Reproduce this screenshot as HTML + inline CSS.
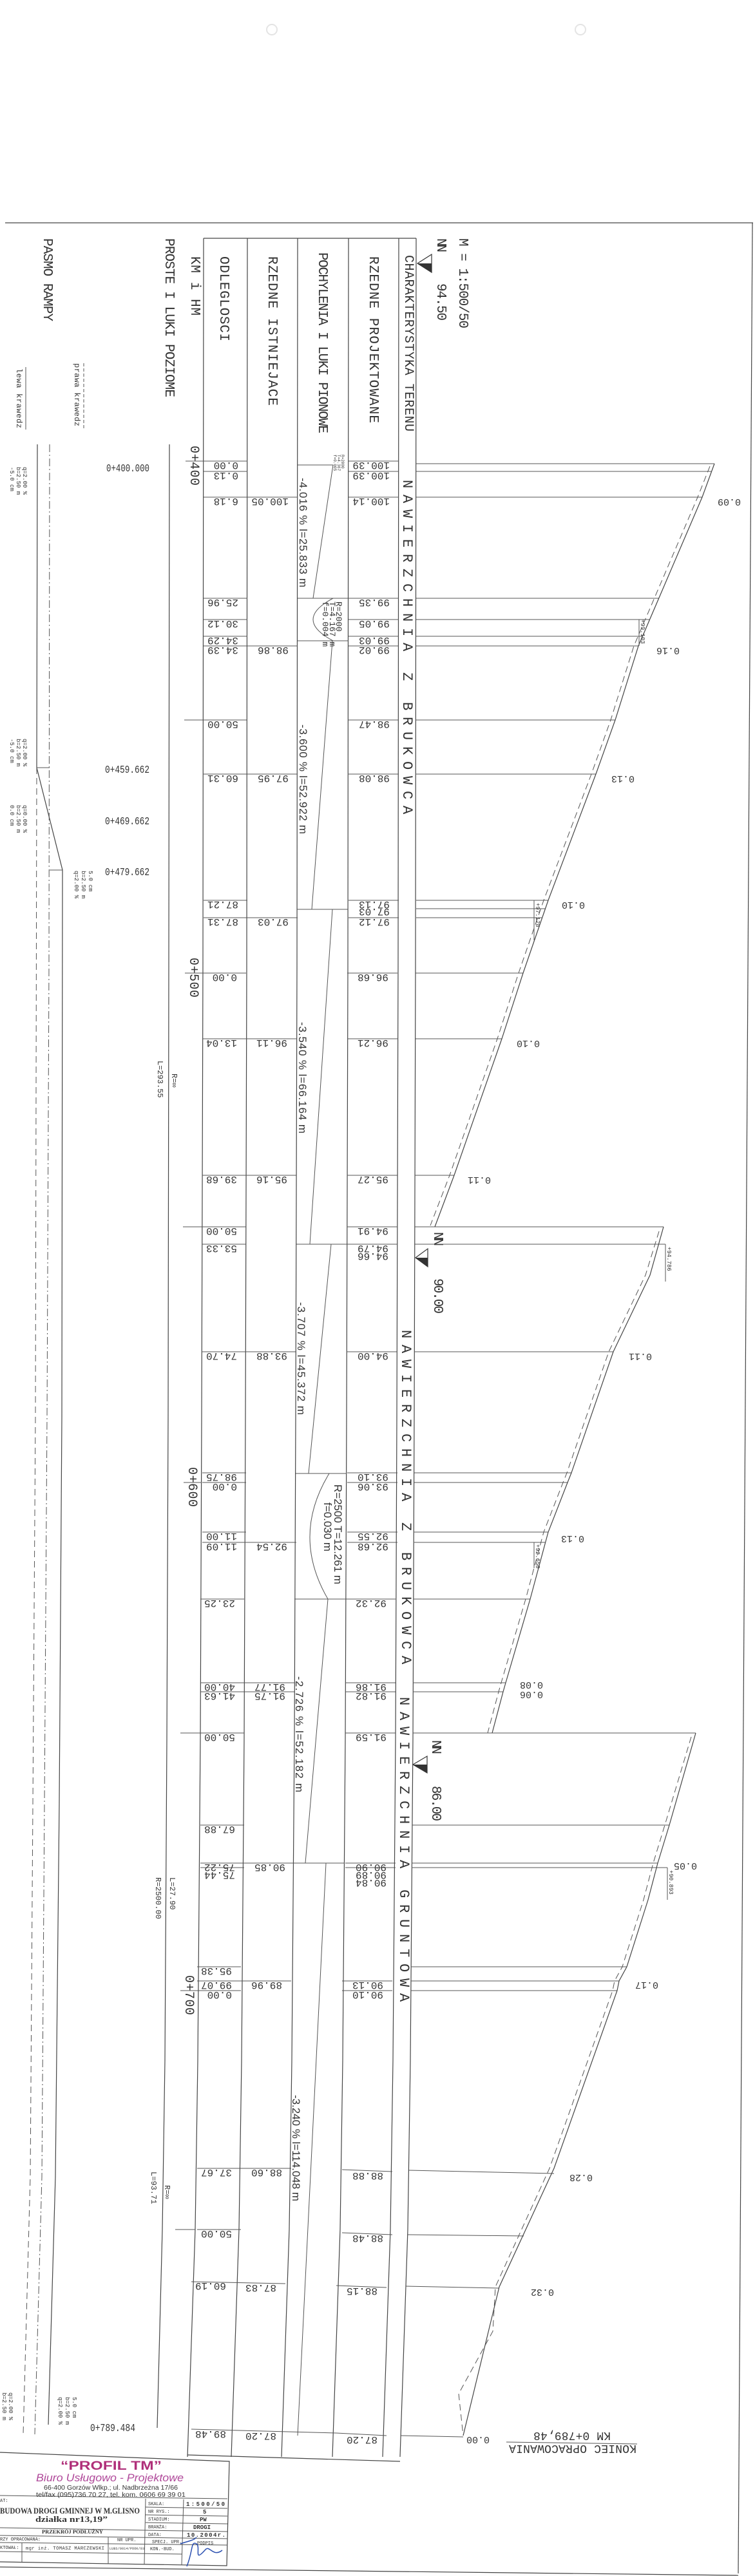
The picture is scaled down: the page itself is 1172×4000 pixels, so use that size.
<!DOCTYPE html>
<html><head><meta charset="utf-8"><style>
html,body{margin:0;padding:0;background:#fff;}
svg{display:block}
text{font-family:"Liberation Mono",monospace;fill:#333}
.h{font-size:21px}
.n{font-size:16px}
.p{font-size:15px}
.sl{font-family:"Liberation Sans",sans-serif;font-size:17px}
.sm{font-size:12px}
.tn{font-size:9px}
.st{font-size:20px}
.nw{font-size:22px;letter-spacing:9.8px}
.ln{stroke:#444;stroke-width:1.2;fill:none}
.lt{stroke:#555;stroke-width:1;fill:none}
.ds{stroke:#555;stroke-width:1;fill:none;stroke-dasharray:10 6}
.dd{stroke:#555;stroke-width:1;fill:none;stroke-dasharray:12 4 2 4}
</style></head><body>
<svg width="1172" height="4000" viewBox="0 0 1172 4000" xmlns="http://www.w3.org/2000/svg">
<rect width="1172" height="4000" fill="#fff"/>
<circle cx="422" cy="46" r="8" fill="none" stroke="#e4e4e4" stroke-width="2"/>
<circle cx="901" cy="46" r="8" fill="none" stroke="#e4e4e4" stroke-width="2"/>
<line class="ln" x1="8" y1="346" x2="1169" y2="346"/>
<line class="ln" x1="1168" y1="346" x2="1146" y2="3996"/>
<line class="ln" x1="0" y1="3986" x2="1146" y2="3999"/>

<text class="h" transform="translate(713,370) rotate(90)" textLength="140">M = 1:500/50</text>
<text class="h" transform="translate(679,370) rotate(90)" textLength="22">NN</text>
<text class="h" transform="translate(679,440) rotate(90)" textLength="58">94.50</text>
<polygon points="648,409 670,395 670,423" fill="none" stroke="#333" stroke-width="1.2"/>
<polygon points="648,409 670,409 670,423" fill="#333"/>
<text class="st" transform="translate(629,396) rotate(90)" textLength="274">CHARAKTERYSTYKA TERENU</text>
<text class="h" transform="translate(574,398) rotate(90)" textLength="259">RZEDNE PROJEKTOWANE</text>
<text class="h" transform="translate(495,392) rotate(90)" textLength="281">POCHYLENIA I LUKI PIONOWE</text>
<text class="h" transform="translate(417,398) rotate(90)" textLength="232">RZEDNE ISTNIEJACE</text>
<text class="h" transform="translate(342,398) rotate(90)" textLength="132">ODLEGLOSCI</text>
<text class="h" transform="translate(297,398) rotate(90)" textLength="92">KM i HM</text>
<text class="h" transform="translate(257,370) rotate(90)" textLength="247">PROSTE I LUKI POZIOME</text>
<text class="h" transform="translate(68,370) rotate(90)" textLength="129">PASMO RAMPY</text>
<text class="sm" transform="translate(116,564) rotate(90)" textLength="98">prawa krawedz</text>
<line class="ds" x1="130" y1="564" x2="130" y2="665" style="stroke-dasharray:5 3"/>
<text class="sm" transform="translate(26,572) rotate(90)" textLength="93">lewa krawedz</text>
<line class="lt" x1="40" y1="570" x2="40" y2="667"/>

<line class="ln" x1="316" y1="370" x2="646" y2="370"/>
<polyline class="ln" points="316,370 315,1500 313,2200 311,2700 307,3200 303,3462 291,3815"/>
<polyline class="ln" points="384,370 383,1500 381,2200 379,2700 375,3200 371,3462 359,3815"/>
<polyline class="ln" points="462,370 461,1500 459,2200 457,2700 453,3200 449,3462 437,3815"/>
<polyline class="ln" points="541,370 540,1500 538,2200 536,2700 532,3200 528,3462 516,3815"/>
<polyline class="ln" points="619,370 618,1500 616,2200 614,2700 610,3200 606,3462 594,3815"/>
<polyline class="ln" points="646,370 645,1500 643,2200 641,2700 637,3200 633,3462 621,3815"/>
<line class="ln" x1="291" y1="3812" x2="621" y2="3822"/>
<polyline class="ln" points="263,690 262,1500 261,2200 259,2700 256,3200 252,3462 244,3770"/>

<polyline class="ln" points="58,690 57,1192 97,1351 96,2200 92,2800 86,3380 75,3765"/>
<polyline class="ds" points="57,1192 55,2200 51,2800 47,3380 36,3780"/>
<polyline class="dd" points="77,690 76,1500 73,2200 69,2800 65,3380 54,3780"/>
<line class="lt" x1="57" y1="1192" x2="77" y2="1192"/>
<line class="lt" x1="77" y1="1351" x2="97" y2="1351"/>
<g class="tn">
<text transform="translate(36,725) rotate(90)">q=2.00 %</text>
<text transform="translate(26,725) rotate(90)">b=2.50 m</text>
<text transform="translate(16,725) rotate(90)">-5.0 cm</text>
<text transform="translate(36,1147) rotate(90)">q=2.00 %</text>
<text transform="translate(26,1147) rotate(90)">b=2.50 m</text>
<text transform="translate(16,1147) rotate(90)">-5.0 cm</text>
<text transform="translate(36,1250) rotate(90)">q=0.00 %</text>
<text transform="translate(26,1250) rotate(90)">b=2.50 m</text>
<text transform="translate(16,1250) rotate(90)">0.0 cm</text>
<text transform="translate(138,1352) rotate(90)">5.0 cm</text>
<text transform="translate(127,1352) rotate(90)">b=2.50 m</text>
<text transform="translate(116,1352) rotate(90)">q=2.00 %</text>
<text transform="translate(14,3715) rotate(90)">q=2.00 %</text>
<text transform="translate(4,3715) rotate(90)">b=2.50 m</text>
<text transform="translate(113,3722) rotate(90)">5.0 cm</text>
<text transform="translate(102,3722) rotate(90)">b=2.50 m</text>
<text transform="translate(91,3722) rotate(90)">q=2.00 %</text>
</g>
<g style="font-size:17px">
<text x="165" y="732" textLength="67" lengthAdjust="spacingAndGlyphs">0+400.000</text>
<text x="163" y="1200" textLength="69" lengthAdjust="spacingAndGlyphs">0+459.662</text>
<text x="163" y="1280" textLength="69" lengthAdjust="spacingAndGlyphs">0+469.662</text>
<text x="163" y="1359" textLength="69" lengthAdjust="spacingAndGlyphs">0+479.662</text>
<text x="140" y="3775" textLength="70" lengthAdjust="spacingAndGlyphs">0+789.484</text>
</g>

<g class="sm">
<text transform="translate(267,1667) rotate(90)">R=∞</text>
<text transform="translate(245,1647) rotate(90)">L=293.55</text>
<text transform="translate(264,2915) rotate(90)">L=27.90</text>
<text transform="translate(242,2915) rotate(90)">R=2500.00</text>
<text transform="translate(256,3393) rotate(90)">R=∞</text>
<text transform="translate(235,3372) rotate(90)">L=93.71</text>
</g>

<text class="nw" transform="translate(626,745) rotate(90)">NAWIERZCHNIA Z BRUKOWCA</text>
<text class="nw" transform="translate(624,2065) rotate(90)">NAWIERZCHNIA Z BRUKOWCA</text>
<text class="nw" transform="translate(621,2635) rotate(90)">NAWIERZCHNIA GRUNTOWA</text>

<text class="h" transform="translate(674,1913) rotate(90)" textLength="22">NN</text>
<polygon points="645,1953 664,1939 664,1967" fill="none" stroke="#333" stroke-width="1.2"/>
<polygon points="645,1953 664,1953 664,1967" fill="#333"/>
<text class="h" transform="translate(674,1985) rotate(90)" textLength="55">90.00</text>
<text class="h" transform="translate(671,2702) rotate(90)" textLength="22">NN</text>
<polygon points="641,2740 663,2727 663,2753" fill="none" stroke="#333" stroke-width="1.2"/>
<polygon points="641,2740 663,2740 663,2753" fill="#333"/>
<text class="h" transform="translate(671,2773) rotate(90)" textLength="55">86.00</text>

<g>
<line class="lt" x1="462" y1="722" x2="517" y2="722"/>
<line class="lt" x1="517" y1="722" x2="486" y2="929"/>
<line class="lt" x1="462" y1="929" x2="541" y2="929"/>
<path class="lt" d="M517,929 Q455,962 517,995"/>
<line class="lt" x1="462" y1="995" x2="541" y2="995"/>
<line class="lt" x1="516" y1="995" x2="484" y2="1412"/>
<line class="lt" x1="461" y1="1412" x2="540" y2="1412"/>
<line class="lt" x1="516" y1="1412" x2="481" y2="1932"/>
<line class="lt" x1="459" y1="1932" x2="539" y2="1932"/>
<line class="lt" x1="514" y1="1932" x2="479" y2="2288"/>
<line class="lt" x1="459" y1="2288" x2="538" y2="2288"/>
<path class="lt" d="M511,2288 Q452,2385 509,2483"/>
<line class="lt" x1="457" y1="2483" x2="536" y2="2483"/>
<line class="lt" x1="509" y1="2483" x2="474" y2="2893"/>
<line class="lt" x1="456" y1="2893" x2="535" y2="2893"/>
<line class="lt" x1="506" y1="2893" x2="462" y2="3782"/>
<text class="tn" style="font-size:6px" transform="translate(530,706) rotate(90)">R=2000</text>
<text class="tn" style="font-size:6px" transform="translate(524,706) rotate(90)">T=4.367</text>
<text class="tn" style="font-size:6px" transform="translate(518,706) rotate(90)">f=0.005</text>
<text style="font-size:13px" transform="translate(522,934) rotate(90)">R=2000</text>
<text style="font-size:13px" transform="translate(512,934) rotate(90)">T=4.167 m</text>
<text style="font-size:13px" transform="translate(501,934) rotate(90)">f=0.004 m</text>
<text class="sl" transform="translate(519,2305) rotate(90)" textLength="155">R=2500  T=12.261 m</text>
<text class="sl" transform="translate(503,2333) rotate(90)">f=0.030 m</text>
<text class="sl" transform="translate(465,742) rotate(90)" textLength="170">-4.016 % l=25.833 m</text>
<text class="sl" transform="translate(465,1125) rotate(90)" textLength="170">-3.600 % l=52.922 m</text>
<text class="sl" transform="translate(464,1587) rotate(90)" textLength="173">-3.540 % l=66.164 m</text>
<text class="sl" transform="translate(462,2022) rotate(90)" textLength="175">-3.707 % l=45.372 m</text>
<text class="sl" transform="translate(459,2603) rotate(90)" textLength="180">-2.726 % l=52.182 m</text>
<text class="sl" transform="translate(454,3253) rotate(90)" textLength="165">-3.240 % l=114.048 m</text>
</g>

<g class="st">
<text transform="translate(296,692) rotate(90)" textLength="62">0+400</text>
<text transform="translate(295,1487) rotate(90)" textLength="62">0+500</text>
<text transform="translate(293,2278) rotate(90)" textLength="62">0+600</text>
<text transform="translate(288,3067) rotate(90)" textLength="62">0+700</text>
</g>
<line class="lt" x1="288" y1="716" x2="316" y2="716"/>
<line class="lt" x1="287" y1="1511" x2="315" y2="1511"/>
<line class="lt" x1="285" y1="2302" x2="313" y2="2302"/>
<line class="lt" x1="280" y1="3091" x2="307" y2="3091"/>
<line class="lt" x1="286" y1="1118" x2="316" y2="1118"/>
<line class="lt" x1="284" y1="1905" x2="314" y2="1905"/>
<line class="lt" x1="280" y1="2691" x2="311" y2="2691"/>
<line class="lt" x1="272" y1="3462" x2="303" y2="3462"/>

<g>
<g class="lt">
<line x1="316" y1="716" x2="384" y2="716"/><line x1="541" y1="716" x2="619" y2="716"/>
<line x1="316" y1="732" x2="384" y2="732"/><line x1="541" y1="732" x2="619" y2="732"/>
<line x1="316" y1="772" x2="462" y2="772"/><line x1="541" y1="772" x2="619" y2="772"/>
<line x1="316" y1="929" x2="384" y2="929"/><line x1="541" y1="929" x2="619" y2="929"/>
<line x1="316" y1="962" x2="384" y2="962"/><line x1="541" y1="962" x2="619" y2="962"/>
<line x1="316" y1="988" x2="384" y2="988"/><line x1="541" y1="988" x2="619" y2="988"/>
<line x1="316" y1="1003" x2="462" y2="1003"/><line x1="541" y1="1003" x2="619" y2="1003"/>
<line x1="316" y1="1118" x2="384" y2="1118"/><line x1="541" y1="1118" x2="619" y2="1118"/>
<line x1="316" y1="1202" x2="462" y2="1202"/><line x1="541" y1="1202" x2="619" y2="1202"/>
<line x1="316" y1="1398" x2="384" y2="1398"/><line x1="541" y1="1398" x2="619" y2="1398"/>
<line x1="316" y1="1425" x2="462" y2="1425"/><line x1="541" y1="1425" x2="619" y2="1425"/>
</g>
<g class="n">
<text transform="translate(370,718) rotate(180)">0.00</text><text transform="translate(605,718) rotate(180)">100.39</text>
<text transform="translate(370,734) rotate(180)">0.13</text><text transform="translate(605,734) rotate(180)">100.39</text>
<text transform="translate(370,774) rotate(180)">6.18</text><text transform="translate(448,774) rotate(180)">100.05</text><text transform="translate(605,774) rotate(180)">100.14</text>
<text transform="translate(370,931) rotate(180)">25.96</text><text transform="translate(605,931) rotate(180)">99.35</text>
<text transform="translate(370,964) rotate(180)">30.12</text><text transform="translate(605,964) rotate(180)">99.05</text>
<text transform="translate(370,990) rotate(180)">34.29</text><text transform="translate(605,990) rotate(180)">99.03</text>
<text transform="translate(370,1005) rotate(180)">34.39</text><text transform="translate(448,1005) rotate(180)">98.86</text><text transform="translate(605,1005) rotate(180)">99.02</text>
<text transform="translate(370,1120) rotate(180)">50.00</text><text transform="translate(605,1120) rotate(180)">98.47</text>
<text transform="translate(370,1204) rotate(180)">60.31</text><text transform="translate(448,1204) rotate(180)">97.95</text><text transform="translate(605,1204) rotate(180)">98.08</text>
<text transform="translate(370,1400) rotate(180)">87.21</text><text transform="translate(605,1400) rotate(180)">97.13</text><text transform="translate(605,1411) rotate(180)">97.03</text>
<text transform="translate(370,1427) rotate(180)">87.31</text><text transform="translate(448,1427) rotate(180)">97.03</text><text transform="translate(605,1427) rotate(180)">97.12</text>
</g>
</g>
<g transform="translate(-2,0)">
<g class="lt">
<line x1="316" y1="1511" x2="384" y2="1511"/><line x1="541" y1="1511" x2="619" y2="1511"/>
<line x1="316" y1="1613" x2="462" y2="1613"/><line x1="541" y1="1613" x2="619" y2="1613"/>
<line x1="316" y1="1825" x2="462" y2="1825"/><line x1="541" y1="1825" x2="619" y2="1825"/>
<line x1="316" y1="1905" x2="384" y2="1905"/><line x1="541" y1="1905" x2="619" y2="1905"/>
<line x1="316" y1="1932" x2="384" y2="1932"/><line x1="541" y1="1932" x2="619" y2="1932"/>
<line x1="316" y1="2099" x2="462" y2="2099"/><line x1="541" y1="2099" x2="619" y2="2099"/>
<line x1="316" y1="2287" x2="384" y2="2287"/><line x1="541" y1="2287" x2="619" y2="2287"/>
<line x1="316" y1="2302" x2="384" y2="2302"/><line x1="541" y1="2302" x2="619" y2="2302"/>
<line x1="316" y1="2379" x2="384" y2="2379"/><line x1="541" y1="2379" x2="619" y2="2379"/>
<line x1="316" y1="2395" x2="462" y2="2395"/><line x1="541" y1="2395" x2="619" y2="2395"/>
</g>
<g class="n">
<text transform="translate(370,1513) rotate(180)">0.00</text><text transform="translate(605,1513) rotate(180)">96.68</text>
<text transform="translate(370,1615) rotate(180)">13.04</text><text transform="translate(448,1615) rotate(180)">96.11</text><text transform="translate(605,1615) rotate(180)">96.21</text>
<text transform="translate(370,1827) rotate(180)">39.68</text><text transform="translate(448,1827) rotate(180)">95.16</text><text transform="translate(605,1827) rotate(180)">95.27</text>
<text transform="translate(370,1907) rotate(180)">50.00</text><text transform="translate(605,1907) rotate(180)">94.91</text>
<text transform="translate(370,1934) rotate(180)">53.33</text><text transform="translate(605,1934) rotate(180)">94.79</text><text transform="translate(605,1946) rotate(180)">94.66</text>
<text transform="translate(370,2101) rotate(180)">74.70</text><text transform="translate(448,2101) rotate(180)">93.88</text><text transform="translate(605,2101) rotate(180)">94.00</text>
<text transform="translate(370,2289) rotate(180)">98.75</text><text transform="translate(605,2289) rotate(180)">93.10</text>
<text transform="translate(370,2304) rotate(180)">0.00</text><text transform="translate(605,2304) rotate(180)">93.06</text>
<text transform="translate(370,2381) rotate(180)">11.00</text><text transform="translate(605,2381) rotate(180)">92.55</text>
<text transform="translate(370,2397) rotate(180)">11.09</text><text transform="translate(448,2397) rotate(180)">92.54</text><text transform="translate(605,2397) rotate(180)">92.68</text>
</g>
</g>
<g transform="translate(-5,0)">
<g class="lt">
<line x1="316" y1="2483" x2="384" y2="2483"/><line x1="541" y1="2483" x2="619" y2="2483"/>
<line x1="316" y1="2613" x2="462" y2="2613"/><line x1="541" y1="2613" x2="619" y2="2613"/>
<line x1="316" y1="2627" x2="462" y2="2627"/><line x1="541" y1="2627" x2="619" y2="2627"/>
<line x1="316" y1="2691" x2="384" y2="2691"/><line x1="541" y1="2691" x2="619" y2="2691"/>
<line x1="316" y1="2834" x2="384" y2="2834"/>
<line x1="316" y1="2893" x2="462" y2="2893"/><line x1="541" y1="2893" x2="619" y2="2893"/>
<line x1="316" y1="2900" x2="384" y2="2900"/><line x1="541" y1="2900" x2="619" y2="2900"/>
</g>
<g class="n">
<text transform="translate(370,2485) rotate(180)">23.25</text><text transform="translate(605,2485) rotate(180)">92.32</text>
<text transform="translate(370,2615) rotate(180)">40.00</text><text transform="translate(448,2615) rotate(180)">91.77</text><text transform="translate(605,2615) rotate(180)">91.86</text>
<text transform="translate(370,2629) rotate(180)">41.63</text><text transform="translate(448,2629) rotate(180)">91.75</text><text transform="translate(605,2629) rotate(180)">91.82</text>
<text transform="translate(370,2693) rotate(180)">50.00</text><text transform="translate(605,2693) rotate(180)">91.59</text>
<text transform="translate(370,2836) rotate(180)">67.88</text>
<text transform="translate(370,2895) rotate(180)">75.22</text><text transform="translate(448,2895) rotate(180)">90.85</text><text transform="translate(605,2895) rotate(180)">90.90</text>
<text transform="translate(370,2907) rotate(180)">75.44</text><text transform="translate(605,2907) rotate(180)">90.89</text><text transform="translate(605,2919) rotate(180)">90.84</text>
</g>
</g>
<g transform="translate(-10,0)">
<g class="lt">
<line x1="316" y1="3054" x2="384" y2="3054"/>
<line x1="316" y1="3076" x2="462" y2="3076"/><line x1="541" y1="3076" x2="619" y2="3076"/>
<line x1="316" y1="3091" x2="384" y2="3091"/><line x1="541" y1="3091" x2="619" y2="3091"/>
<line x1="316" y1="3367" x2="462" y2="3367"/><line x1="541" y1="3369" x2="619" y2="3372"/>
<line x1="316" y1="3462" x2="384" y2="3462"/><line x1="541" y1="3467" x2="619" y2="3470"/>
</g>
<g class="n">
<text transform="translate(370,3056) rotate(180)">95.38</text>
<text transform="translate(370,3078) rotate(180)">99.07</text><text transform="translate(448,3078) rotate(180)">89.96</text><text transform="translate(605,3078) rotate(180)">90.13</text>
<text transform="translate(370,3093) rotate(180)">0.00</text><text transform="translate(605,3093) rotate(180)">90.10</text>
<text transform="translate(370,3369) rotate(180)">37.67</text><text transform="translate(448,3369) rotate(180)">88.60</text><text transform="translate(605,3374) rotate(180)">88.88</text>
<text transform="translate(370,3464) rotate(180)">50.00</text><text transform="translate(605,3471) rotate(180)">88.48</text>
</g>
</g>
<g transform="translate(-19,0)">
<g class="lt">
<line x1="316" y1="3543" x2="462" y2="3546"/><line x1="541" y1="3549" x2="619" y2="3552"/>
<line x1="316" y1="3772" x2="541" y2="3778"/><line x1="541" y1="3778" x2="619" y2="3782"/>
</g>
<g class="n">
<text transform="translate(370,3545) rotate(180)">60.19</text><text transform="translate(448,3548) rotate(180)">87.83</text><text transform="translate(605,3553) rotate(180)">88.15</text>
<text transform="translate(370,3775) rotate(180)">89.48</text><text transform="translate(448,3778) rotate(180)">87.20</text><text transform="translate(605,3784) rotate(180)">87.20</text>
</g>
</g>

<g class="lt">
<line x1="646" y1="720" x2="1109" y2="720"/>
<line x1="646" y1="732" x2="1104" y2="732"/>
<line x1="646" y1="772" x2="1090" y2="772"/>
<line x1="646" y1="929" x2="1023" y2="929"/>
<line x1="646" y1="962" x2="1009" y2="962"/>
<line x1="646" y1="988" x2="997" y2="988"/>
<line x1="646" y1="1003" x2="991" y2="1003"/>
<line x1="646" y1="1118" x2="955" y2="1118"/>
<line x1="646" y1="1202" x2="925" y2="1202"/>
<line x1="646" y1="1398" x2="851" y2="1398"/>
<line x1="646" y1="1411" x2="846" y2="1411"/>
<line x1="646" y1="1425" x2="841" y2="1425"/>
<line x1="645" y1="1511" x2="812" y2="1511"/>
<line x1="645" y1="1613" x2="779" y2="1613"/>
<line x1="644" y1="1825" x2="705" y2="1825"/>
<line x1="644" y1="1905" x2="1030" y2="1905"/>
<line x1="644" y1="1932" x2="1033" y2="1932"/>
<line x1="643" y1="2099" x2="952" y2="2099"/>
<line x1="643" y1="2287" x2="887" y2="2287"/>
<line x1="643" y1="2302" x2="881" y2="2302"/>
<line x1="643" y1="2379" x2="851" y2="2379"/>
<line x1="643" y1="2395" x2="846" y2="2395"/>
<line x1="642" y1="2483" x2="823" y2="2483"/>
<line x1="641" y1="2613" x2="785" y2="2613"/>
<line x1="641" y1="2627" x2="781" y2="2627"/>
<line x1="641" y1="2691" x2="1080" y2="2691"/>
<line x1="640" y1="2834" x2="1039" y2="2834"/>
<line x1="639" y1="2893" x2="1021" y2="2893"/>
<line x1="639" y1="2900" x2="1036" y2="2900"/>
<line x1="638" y1="3054" x2="973" y2="3054"/>
<line x1="638" y1="3076" x2="961" y2="3076"/>
<line x1="638" y1="3091" x2="958" y2="3091"/>
<line x1="635" y1="3370" x2="860" y2="3375"/>
<line x1="633" y1="3470" x2="813" y2="3472"/>
<line x1="630" y1="3550" x2="775" y2="3553"/>
<line x1="622" y1="3782" x2="719" y2="3784"/>
</g>
<polyline class="ln" points="1109,720 1090,772 991,1003 955,1118 925,1202 851,1398 812,1511 779,1613 705,1825 675,1905"/>
<polyline class="ds" points="1102,724 1083,772 984,1003 948,1118 918,1202 844,1398 805,1511 772,1613 698,1825 668,1903"/>
<polyline class="ln" points="1030,1905 1009,1980 952,2099 887,2287 881,2302 851,2379 823,2483 785,2613 781,2627 764,2691"/>
<polyline class="ds" points="1023,1912 1002,1980 945,2099 880,2287 874,2302 844,2379 816,2483 778,2613 774,2627 757,2691"/>
<polyline class="ln" points="1080,2691 1039,2834 1021,2893 1006,2950 973,3054 961,3076 958,3091 860,3367 775,3551 719,3782"/>
<polyline class="ds" points="1073,2697 1032,2834 1014,2893 999,2950 966,3054 954,3076 951,3091 853,3367 769,3551 765,3620 712,3717 719,3782"/>
<g class="lt">
<line x1="829" y1="1398" x2="829" y2="1460"/>
<line x1="1033" y1="1932" x2="1033" y2="1990"/>
<line x1="829" y1="2395" x2="829" y2="2435"/>
<line x1="1036" y1="2900" x2="1036" y2="2950"/>
<line x1="992" y1="962" x2="992" y2="1003"/>
</g>
<g class="tn">
<text transform="translate(832,1402) rotate(90)">+97.128</text>
<text transform="translate(1036,1936) rotate(90)">+94.786</text>
<text transform="translate(832,2398) rotate(90)">+92.650</text>
<text transform="translate(1039,2904) rotate(90)">+90.893</text>
<text transform="translate(995,962) rotate(90)">+99.103</text>
</g>
<g class="p">
<text transform="translate(1150,775) rotate(180)">0.09</text>
<text transform="translate(1055,1006) rotate(180)">0.16</text>
<text transform="translate(985,1205) rotate(180)">0.13</text>
<text transform="translate(908,1401) rotate(180)">0.10</text>
<text transform="translate(838,1616) rotate(180)">0.10</text>
<text transform="translate(762,1828) rotate(180)">0.11</text>
<text transform="translate(1012,2102) rotate(180)">0.11</text>
<text transform="translate(907,2385) rotate(180)">0.13</text>
<text transform="translate(843,2612) rotate(180)">0.08</text>
<text transform="translate(843,2627) rotate(180)">0.06</text>
<text transform="translate(1082,2893) rotate(180)">0.05</text>
<text transform="translate(1022,3078) rotate(180)">0.17</text>
<text transform="translate(920,3377) rotate(180)">0.28</text>
<text transform="translate(860,3555) rotate(180)">0.32</text>
<text transform="translate(760,3784) rotate(180)">0.00</text>
</g>
<text style="font-size:18px" transform="translate(948,3777) rotate(180)" textLength="120">KM 0+789,48</text>
<line class="lt" x1="786" y1="3792" x2="989" y2="3795"/>
<text style="font-size:18px" transform="translate(988,3797) rotate(180)" textLength="198">KONIEC OPRACOWANIA</text>

<g>
<polyline class="ln" points="0,3808 356,3822 352,3984 0,3978"/>
<line class="lt" x1="0" y1="3875" x2="353" y2="3880"/>
<line class="lt" x1="226" y1="3880" x2="224" y2="3982"/>
<line class="lt" x1="285" y1="3881" x2="282" y2="3983"/>
<line class="lt" x1="226" y1="3893" x2="353" y2="3895"/>
<line class="lt" x1="226" y1="3905" x2="353" y2="3907"/>
<line class="lt" x1="226" y1="3917" x2="353" y2="3919"/>
<line class="lt" x1="226" y1="3929" x2="353" y2="3931"/>
<line class="lt" x1="0" y1="3925" x2="226" y2="3929"/>
<line class="lt" x1="0" y1="3937" x2="353" y2="3942"/>
<line class="lt" x1="0" y1="3948" x2="353" y2="3952"/>
<line class="lt" x1="0" y1="3962" x2="282" y2="3966"/>
<line class="lt" x1="34" y1="3948" x2="34" y2="3978"/>
<line class="lt" x1="168" y1="3940" x2="168" y2="3981"/>
<text x="94" y="3835" textLength="157" lengthAdjust="spacingAndGlyphs" style="font-family:'Liberation Sans',sans-serif;font-weight:bold;font-size:19px;fill:#b0307a">“PROFIL TM”</text>
<text x="56" y="3853" textLength="229" lengthAdjust="spacingAndGlyphs" style="font-family:'Liberation Sans',sans-serif;font-style:italic;font-size:17px;fill:#b04a9a">Biuro Usługowo - Projektowe</text>
<text x="68" y="3866" textLength="208" lengthAdjust="spacingAndGlyphs" style="font-family:'Liberation Sans',sans-serif;font-size:10px">66-400 Gorzów Wlkp.; ul. Nadbrzeżna 17/66</text>
<text x="56" y="3877" textLength="232" lengthAdjust="spacingAndGlyphs" style="font-family:'Liberation Sans',sans-serif;font-size:10px">tel/fax (095)736 70 27, tel. kom. 0606 69 39 01</text>
<g style="font-family:'Liberation Sans',sans-serif;font-size:7px">
<text x="0" y="3885">AT:</text>
<text x="230" y="3890">SKALA:</text>
<text x="230" y="3902">NR RYS.:</text>
<text x="230" y="3914">STADIUM:</text>
<text x="230" y="3926">BRANŻA:</text>
<text x="230" y="3938">DATA:</text>
<text x="0" y="3945">RZY OPRACOWANA:</text>
<text x="182" y="3946">NR UPR.</text>
<text x="236" y="3949">SPECJ. UPR.</text>
<text x="306" y="3951">PODPIS</text>
<text x="0" y="3958">KTOWAŁ:</text>
<text x="40" y="3959" textLength="122">mgr inż. TOMASZ MARCZEWSKI</text>
<text x="170" y="3959" textLength="54" style="font-size:5px">LUBS/0014/POOK/03</text>
<text x="233" y="3960">KON.-BUD.</text>
</g>
<g style="font-family:'Liberation Sans',sans-serif;font-weight:bold;font-size:9px;fill:#666">
<text x="289" y="3891" textLength="60">1:500/50</text>
<text x="315" y="3903">5</text>
<text x="310" y="3915">PW</text>
<text x="300" y="3927">DROGI</text>
<text x="290" y="3939" textLength="60">10.2004r.</text>
</g>
<text x="0" y="3903" textLength="217" lengthAdjust="spacingAndGlyphs" style="font-family:'Liberation Serif',serif;font-weight:bold;font-size:13px">BUDOWA DROGI GMINNEJ W M.GLISNO</text>
<text x="55" y="3916" textLength="112" lengthAdjust="spacingAndGlyphs" style="font-family:'Liberation Serif',serif;font-weight:bold;font-size:13px">działka nr13,19”</text>
<text x="65" y="3934" textLength="95" lengthAdjust="spacingAndGlyphs" style="font-family:'Liberation Serif',serif;font-weight:bold;font-size:8px">PRZEKRÓJ PODŁUŻNY</text>
<path d="M290,3985 C300,3960 296,3945 305,3950 C312,3955 300,3980 318,3960 C325,3950 330,3972 345,3960 M280,3950 C295,3945 300,3945 305,3940" stroke="#2a4fb0" stroke-width="1.5" fill="none"/>
</g>
</svg>
</body></html>
